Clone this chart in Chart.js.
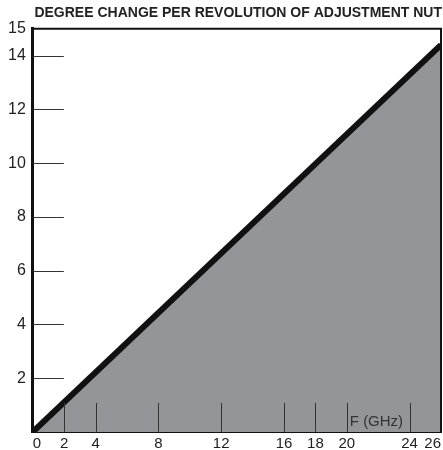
<!DOCTYPE html>
<html>
<head>
<meta charset="utf-8">
<script src="https://cdn.jsdelivr.net/npm/chart.js@4"></script>
<style>
  html, body { margin: 0; padding: 0; background: #fff; }
  #wrap { width: 443px; height: 450px; }
</style>
</head>
<body>
<div id="wrap"><canvas id="g1"></canvas></div>
<script>
// data
var freq = [0, 26];          // F (GHz)
var degrees = [0, 14.4];     // degree change per revolution
var xLabels = [0, 2, 4, 8, 12, 16, 18, 20, 24, 26];
var yLabels = [2, 4, 6, 8, 10, 12, 14, 15];
var xMarks = [2, 4, 8, 12, 16, 18, 20, 24];
var yMarks = [2, 4, 6, 8, 10, 12, 14];

var points = freq.map(function(f, i) {
    return {x: f, y: degrees[i]};
});

var fontFam = '"Liberation Sans", Arial, sans-serif';

// inner tick marks, top/right frame and axis note
var framePlugin = {
    id: 'frame',
    afterDatasetsDraw: function(chart) {
        var ctx = chart.ctx;
        var a = chart.chartArea;
        var xs = chart.scales.x, ys = chart.scales.y;
        ctx.save();
        ctx.strokeStyle = '#333';
        ctx.lineWidth = 1;
        xMarks.forEach(function(v) {
            var px = Math.round(xs.getPixelForValue(v)) + 0.5;
            ctx.beginPath();
            ctx.moveTo(px, a.bottom);
            ctx.lineTo(px, a.bottom - 29);
            ctx.stroke();
        });
        yMarks.forEach(function(v) {
            var py = Math.round(ys.getPixelForValue(v)) + 0.5;
            ctx.beginPath();
            ctx.moveTo(a.left, py);
            ctx.lineTo(a.left + 31, py);
            ctx.stroke();
        });
        ctx.strokeStyle = '#111';
        ctx.lineWidth = 2;
        ctx.beginPath();
        ctx.moveTo(a.left, a.top);
        ctx.lineTo(a.right, a.top);
        ctx.lineTo(a.right, a.bottom);
        ctx.stroke();
        ctx.fillStyle = '#333';
        ctx.font = '15px ' + fontFam;
        ctx.textBaseline = 'alphabetic';
        ctx.textAlign = 'left';
        ctx.fillText('F (GHz)', xs.getPixelForValue(20) + 3, a.bottom - 6);
        ctx.restore();
    }
};

var ctx_1 = document.getElementById('g1');

var myChart = new Chart(ctx_1, {
    type: 'line',
    data: {
        datasets: [{
            data: points,
            borderColor: '#111',
            borderWidth: 6,
            backgroundColor: '#939598',
            fill: 'origin',
            pointRadius: 0,
            tension: 0,
            clip: 0
        }]
    },
    options: {
        responsive: true,
        maintainAspectRatio: false,
        animation: false,
        layout: { padding: { left: 1, right: 1, bottom: 0, top: 0 } },
        plugins: {
            legend: { display: false },
            tooltip: { enabled: false },
            title: {
                display: true,
                text: 'DEGREE CHANGE PER REVOLUTION OF ADJUSTMENT NUT',
                color: '#222',
                font: { family: fontFam, size: 14, weight: 'bold' },
                padding: { top: 5, bottom: 7 },
                align: 'end'
            }
        },
        scales: {
            x: {
                type: 'linear',
                min: 0,
                max: 26,
                afterBuildTicks: function(scale) {
                    scale.ticks = xLabels.map(function(v) { return {value: v}; });
                },
                grid: { drawOnChartArea: false, drawTicks: true, tickLength: 6, tickColor: 'rgba(0,0,0,0)' },
                border: { color: '#111', width: 3 },
                ticks: {
                    color: '#222',
                    padding: 2,
                    align: 'inner',
                    maxRotation: 0,
                    autoSkip: false,
                    font: { family: fontFam, size: 15, lineHeight: 0.54 }
                }
            },
            y: {
                min: 0,
                max: 15,
                afterBuildTicks: function(scale) {
                    scale.ticks = yLabels.map(function(v) { return {value: v}; });
                },
                grid: { drawOnChartArea: false, drawTicks: false },
                border: { color: '#111', width: 3 },
                ticks: {
                    color: '#222',
                    padding: 7,
                    autoSkip: false,
                    font: { family: fontFam, size: 16 }
                }
            }
        }
    },
    plugins: [framePlugin]
});
</script>
</body>
</html>
